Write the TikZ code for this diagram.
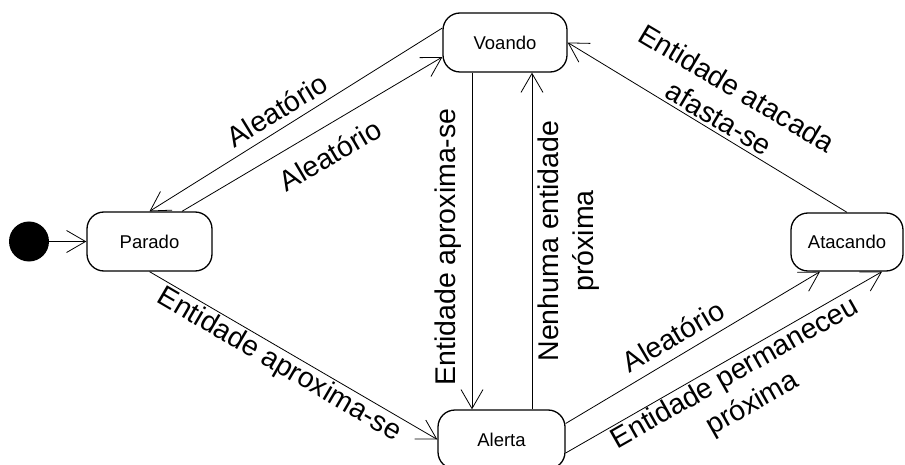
\documentclass[tikz,border=0pt]{standalone}
\usepackage{fontspec}
\setmainfont{Liberation Sans}
\usetikzlibrary{arrows.meta}
\begin{document}
\begin{tikzpicture}[x=1pt,y=-1pt,
  state/.style={draw,line width=1.3pt,rounded corners=17pt,inner sep=0pt,
    font=\fontsize{18.5}{22}\selectfont},
  arr/.style={line width=0.8pt,-{Straight Barb[length=19pt,width=22pt]}},
  lab/.style={inner sep=0pt,align=center,font=\fontsize{28.5}{35}\selectfont}]
\useasboundingbox (0,0) rectangle (905,465);
\fill[black] (29,241.5) circle (20) node (start) [inner sep=0pt,minimum size=40pt,circle] {};
\node[state,minimum width=125pt,minimum height=59pt] (parado) at (149.5,241.5) {Parado};
\node[state,minimum width=124pt,minimum height=59pt] (voando) at (505,42.5) {Voando};
\node[state,minimum width=127pt,minimum height=59pt] (alerta) at (501.5,439.5) {Alerta};
\node[state,minimum width=112pt,minimum height=58pt] (atacando) at (847,242) {Atacando};
\coordinate (v1) at ([xshift=-33pt]voando.south);
\coordinate (a1) at ([xshift=30.5pt]alerta.north);
\draw[arr] (start) -- (parado.west);
\draw[arr] ([yshift=14.5pt]voando.west) -- (parado.north);
\draw[arr] ([xshift=32.5pt]parado.north) -- ([yshift=-14.5pt]voando.west);
\draw[arr] (parado.south) -- (alerta.west);
\draw[arr] (v1) -- (v1 |- alerta.north);
\draw[arr] (a1) -- (a1 |- voando.south);
\draw[arr] (atacando.north) -- (voando.east);
\draw[arr] ([yshift=16pt]alerta.east) -- ([xshift=-27pt]atacando.south);
\draw[arr] ([yshift=-13.5pt]alerta.east) -- ([xshift=35pt]atacando.south);
\node[lab,rotate=31.5] (l1) at (277,110) {Aleatório};
\node[lab,rotate=30.6] (l2) at (330,155) {Aleatório};
\node[lab,rotate=-30.3] (l3) at (279,365) {Entidade aproxima-se};
\node[lab,rotate=90] (l4) at (448,247) {Entidade aproxima-se};
\node[lab,rotate=90] (l5) at (569,241) {Nenhuma entidade\\próxima};
\node[lab,rotate=-30.7] (l6) at (728,103) {Entidade atacada\\afasta-se};
\node[lab,rotate=30.4] (l7) at (673,336) {Aleatório};
\node[lab,rotate=29.6] (l8) at (744,389) {Entidade permaneceu\\próxima};
\end{tikzpicture}
\end{document}
